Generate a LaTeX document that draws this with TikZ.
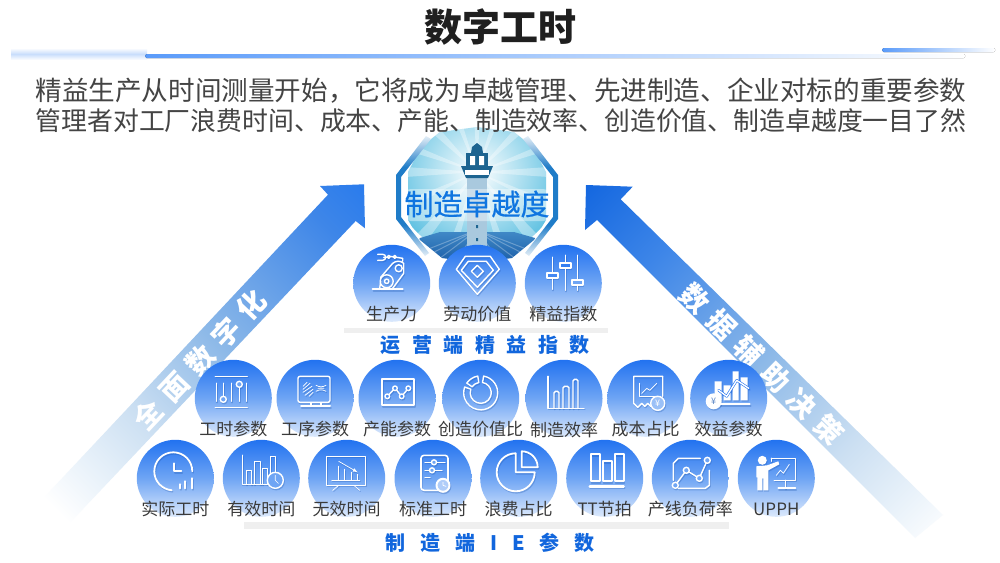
\documentclass[tikz,border=0pt]{standalone}
\usepackage{fontspec}
\setmainfont{Noto Sans CJK SC}
\newfontfamily\emblemfont{Noto Sans CJK SC}[FakeBold=0.6]
\usetikzlibrary{fadings,shadings}
\definecolor{txtgray}{HTML}{444444}
\definecolor{lblgray}{HTML}{3A3A3A}
\definecolor{titleink}{HTML}{1F1F1F}
\definecolor{deepblue}{HTML}{1166DD}
\definecolor{discbg}{HTML}{6FA5F4}
\definecolor{barblue}{HTML}{5A9BFA}
\definecolor{ringblue}{HTML}{1F7CC8}
\definecolor{ringpale}{HTML}{E3EEF7}
\definecolor{skyedge}{HTML}{62C2E2}
\definecolor{seatop}{HTML}{3F88C6}
\definecolor{seabot}{HTML}{1A5CA6}
\definecolor{towerc}{HTML}{A9C9DE}
\definecolor{lampc}{HTML}{1D6490}
\definecolor{bA}{HTML}{E9F2FA}\definecolor{bB}{HTML}{CBDFF2}\definecolor{bC}{HTML}{8DB9E8}
\definecolor{bD}{HTML}{3E86E8}\definecolor{bE}{HTML}{1A73F0}\definecolor{bF}{HTML}{1568E0}
\pgfdeclarehorizontalshading{bannerL}{100bp}{
  color(0bp)=(white); color(18bp)=(white); color(26bp)=(bA);
  color(37bp)=(bB); color(53bp)=(bC); color(77bp)=(bD); color(92bp)=(bE); color(100bp)=(bE)}
\pgfdeclarehorizontalshading{bannerR}{100bp}{
  color(0bp)=(white); color(14bp)=(white); color(22bp)=(bA);
  color(33bp)=(bB); color(50bp)=(bC); color(71bp)=(bD); color(85bp)=(bF); color(100bp)=(bF)}
\pgfdeclareverticalshading{ringv}{100bp}{
  color(0bp)=(ringpale); color(25bp)=(ringpale); color(38bp)=(ringblue);
  color(62bp)=(ringblue); color(75bp)=(ringpale); color(100bp)=(ringpale)}
\definecolor{HTMLa}{HTML}{2272F0}
\definecolor{HTMLb}{HTML}{DCE9FC}
\definecolor{HTMLc}{HTML}{EFEFEF}
\tikzset{
  x=1pt,y=-1pt,
  disc/.style={circle,minimum size=77pt,inner sep=0pt,top color=HTMLa,bottom color=HTMLb,middle color=discbg},
  lbl/.style={font=\fontsize{17}{17}\selectfont,text=lblgray,inner sep=0pt},
  head/.style={font=\bfseries\fontsize{20}{20}\selectfont,text=deepblue,inner sep=0pt},
  sub/.style={text=txtgray,inner sep=0pt},
  band/.style={font=\bfseries\fontsize{28}{28}\selectfont,text=white,inner sep=0pt},
  greybar/.style={fill=HTMLc,draw=none},
  thin ic/.style={line width=.7pt},
  thick ic/.style={line width=2pt},
}
% icon placement: soft shadow pass, then white pass
\newcommand\placeicon[3]{%
  \begin{scope}[shift={(#1+.8,#2+1.4)},color=HTMLa!70!black,opacity=.28,line width=1.4pt,line join=round,line cap=round]#3\end{scope}%
  \begin{scope}[shift={(#1,#2)},color=white,line width=1.4pt,line join=round,line cap=round]#3\end{scope}}
\newcommand\icRobot{%
  \draw[thick ic] (-19,6)--(11,6);
  \draw (-5,-2) circle (6.5) (-5,-2) circle (2.2) (7,-15) circle (3.5);
  \draw (-11,-6)--(1,-20) (1,5)--(12,-10) (12,-20)--(12,-10) (1,-20) to[bend left=40] (12,-20);
  \draw (-11,-2)--(-12,5);
  \draw (11,-22)--(11,-25)--(-2,-27) (-3,-26)--(-8,-26);
  \draw (-3,-26.5) circle (1.5) (3,-26.5) circle (1.5);
  \draw (-9,-29)--(-14,-29) (-9,-23)--(-14,-23) (-9,-29) arc (-90:90:3);}
\newcommand\icGem{%
  \draw (-21,-14)--(-12,-27)--(13,-27)--(22,-14)--(0,11)--cycle;
  \draw (-16,-13)--(-9,-22)--(9,-22)--(16,-13)--(0,4)--cycle;
  \draw (0,-18)--(6,-12)--(0,-6)--(-6,-12)--cycle;}
\newcommand\icSliders{%
  \draw (-11,-26)--(-11,6) (2,-28)--(2,7) (14,-28)--(14,7);
  \draw[fill=HTMLa!55!discbg] (-16.5,-10.5) rectangle (-5.5,-5.5);
  \draw[fill=HTMLa!75!discbg] (-3.5,-20.5) rectangle (7.5,-15.5);
  \draw[fill=discbg] (8.5,-3.5) rectangle (19.5,1.5);}
\newcommand\icParam{%
  \draw (-18,-22)--(14,-22) (-18,9)--(14,9);
  \draw (-17,-15)--(-17,3) (-10,-15)--(-10,-2) (-2,-15)--(-2,3) (6,-11)--(6,3) (13,-15)--(13,3);
  \draw[fill=discbg] (-10,1) circle (3) (6,-14) circle (3);}
\newcommand\icMonitor{%
  \draw[rounded corners=2pt] (-17,-22) rectangle (15,4);
  \draw[thin ic] (-12,-12)--(-8,-16) (-12,-9)--(-5,-15) (-12,-6)--(-3,-12) (-10,-3)--(-2,-9) (-6,-2)--(-2,-6);
  \draw[thin ic] (1,-13) to[bend right=30] (11,-13) (1,-7) to[bend left=30] (11,-7) (3,-10)--(9,-10);
  \draw (-4,5)--(-4,7) (6,5)--(6,7);
  \draw[thick ic] (-14,8)--(15,8);}
\newcommand\icCap{%
  \draw[line width=1.7pt] (-15,-19) rectangle (17,7);
  \draw (-9.7,-2)--(-2,-10)--(4.7,-2)--(11.3,-10);
  \draw[fill=HTMLa!45!discbg] (-9.7,-2) circle (2.3) (-2,-10) circle (2.3) (4.7,-2) circle (2.3) (11.3,-10) circle (2.3);}
\newcommand\icDonut{%
  \draw (2.95,-22.2) arc (-80:200:17) -- ++(6.1,2.2) arc (200:-80:10.5) -- cycle;
  \draw (-2.95,-22.2) arc (-100:-145:17) -- ++(5.3,3.7) arc (-145:-100:10.5) -- cycle;}
\newcommand\icBars{%
  \draw (-16,-22)--(-16,10)--(20,10);
  \draw[rounded corners=1.5pt] (-10,10)--(-10,-7)--(-5,-7)--(-5,10);
  \draw[rounded corners=1.5pt] (-1,10)--(-1,-12)--(5,-12)--(5,10);
  \draw[rounded corners=1.5pt] (9,10)--(9,-19)--(14,-19)--(14,10);}
\newcommand\icCost{%
  \draw (5,8)--(2,5)--(-1,8)--(-4,5)--(-8,9)--(-12,5)--(-12,-22)--(17,-22)--(17,-2);
  \draw[thin ic] (-6,-15)--(-6,-2)--(11,-2);
  \draw[thin ic] (-4,-5)--(1,-10)--(4,-8)--(11,-15);
  \draw[fill=discbg!70!white] (12,5) circle (7);
  \node[font=\fontsize{9}{9}\selectfont,text=white,inner sep=0pt] (yenA) at (12,5) {¥};}
\newcommand\icBenefit{%
  \fill (-14,-17) rectangle (-7,2) (-5,-13) rectangle (2,2) (4,-27) rectangle (10,2) (12,-21) rectangle (19,2);
  \draw[thick ic] (-9,6)--(21,6);
  \draw[HTMLa,line width=2.6pt] (-10,-8)--(-2,-2)--(8,-18)--(20,-10);
  \draw (-10,-8)--(-2,-2)--(8,-18)--(20,-10);
  \fill (-15,3) circle (8);
  \node[font=\fontsize{9}{9}\selectfont,text=discbg!80!black,inner sep=0pt] (yenB) at (-15,3) {¥};}
\newcommand\icClock{%
  \draw[line width=1.8pt] (17,-7) arc (0:-265:19);
  \draw[line width=1.8pt] (-1,-15)--(-1,-7)--(6,-7);
  \draw[line width=2.2pt] (5,10)--(5,6) (10,10)--(10,3) (17,10)--(17,0);}
\newcommand\icEff{%
  \draw (-19,-23)--(-19,6)--(6,6);
  \draw (-15,6)--(-15,-8)--(-10,-8)--(-10,6);
  \draw (-7,6)--(-7,-17)--(-1,-17)--(-1,6);
  \draw (1,6)--(1,-10)--(6,-10)--(6,6);
  \draw (9,6)--(9,-22)--(14,-22)--(14,-6);
  \draw[fill=discbg] (14,2) circle (8);
  \draw[thin ic] (14,-3)--(14,2)--(17,5);}
\newcommand\icBoard{%
  \draw[line width=1pt] (-20,-22) rectangle (19,7);
  \draw[thin ic] (-8,7)--(-14,12) (7,7)--(13,12);
  \draw[thin ic] (-15,2)--(13,2) (-8,2)--(-8,-12) (-2,2)--(-2,-9) (5,2)--(5,-6) (11,2)--(11,-4);
  \draw[thin ic,-latex] (-8,-17)--(11,-6);}
\newcommand\icStd{%
  \draw[rounded corners=3pt,line width=1.6pt] (-12,-23) rectangle (15,12);
  \draw (-8,-16)--(12,-16) (-8,-8)--(9,-8) (-8,-1)--(-3,-1);
  \draw[fill=discbg] (1,-16) circle (2.5) (-1,-8) circle (2.5);
  \draw[fill=discbg!55!white,line width=2pt] (10,7) circle (6.5);
  \draw[thin ic] (10,4)--(10,7)--(13,8);}
\newcommand\icPie{%
  \draw[line width=1.8pt] (-3,-25) arc (-90:-360:19) -- (-3,-6) -- cycle;
  \draw[line width=1.8pt] (3,-27) arc (-90:0:16) -- (3,-11) -- cycle;}
\newcommand\icTT{%
  \draw[line width=1.8pt] (-14,-24) rectangle (-5,3) (-2,-17) rectangle (7,3) (10,-24) rectangle (19,3);
  \draw[line width=2.4pt] (-15,8)--(19,8);}
\newcommand\icLoad{%
  \draw (10,-20)--(-12,-20)--(-17,-15)--(-17,2) (-12,10)--(15,10)--(19,7)--(19,-8);
  \draw (-15,7)--(-4,-8)--(9,0)--(17,-18);
  \draw[fill=discbg] (-15,7) circle (3) (-4,-8) circle (3) (9,0) circle (3) (17,-18) circle (3);}
\newcommand\icUpph{%
  \fill (-14,-18) circle (4.5);
  \fill (-20,-12)--(-9,-13)--(2,-17)--(3,-14)--(-8,-8)--(-8,12)--(-13,12)--(-13,0)--(-14,0)--(-14,12)--(-19,12)--(-19,-1)--(-20,-1)--cycle;
  \draw (-5,-20)--(19,-20)--(19,2)--(-2,2) (-5,-20)--(-5,-17);
  \draw (9,2)--(9,10);
  \draw[line width=1.8pt] (2,10)--(19,10);
  \draw[thin ic] (0,-3)--(4,-8)--(7,-5)--(13,-14);}
\begin{document}
\begin{tikzpicture}
\useasboundingbox (0,0) rectangle (1000,562);
\fill[white] (0,0) rectangle (1000,562);

% title rule
\shade[top color=white,bottom color=white,middle color=HTMLb!85!barblue] (11,48) rectangle (147,60);
\fill[left color=barblue,right color=white,rounded corners=1.5pt] (145,54) rectangle (965,58);
\fill[left color=barblue,right color=white,rounded corners=1.5pt] (882,48) rectangle (995,52);

\node[font=\bfseries\fontsize{38}{38}\selectfont,text=titleink,inner sep=0pt] (title) at (500,27) {数字工时};

% banners
\shade[shading=bannerL,shading angle=45] (364,184.3)--(320,186)--(328,194.7)--(40,501.7)--(65,528)--(355.7,221)--(365,228.3)--cycle;
\shade[shading=bannerR,shading angle=135] (586,185)--(632.7,186.7)--(620.7,199.3)--(943,515)--(915,538)--(597,220)--(585,230)--cycle;
\node[band,rotate=46.7] (bandL) at (200,360) {全\hspace{9.7pt}面\hspace{9.7pt}数\hspace{9.7pt}字\hspace{9.7pt}化};
\node[band,rotate=-44.3] (bandR) at (762,364) {数\hspace{9.7pt}据\hspace{9.7pt}辅\hspace{9.7pt}助\hspace{9.7pt}决\hspace{9.7pt}策};

% emblem
\begin{scope}
  \clip (477,127)--(514,132)--(533,147)--(546,172)--(546,220)--(534,240)--(512,258)--(477,263)--(442,258)--(420,240)--(408,220)--(408,172)--(421,147)--(440,132)--cycle;
  \shade[inner color=white,outer color=skyedge] (477,172) circle (85);
  \foreach \a/\w in {0/4,25/3,50/4,72/3,108/3,130/4,155/3,180/4,200/3,225/4,250/3,270/3,290/3,315/4,340/3}
    \fill[white,opacity=.35] (477,172)--++(\a-\w:90)--++(\a+90:{2*\w*1.57})--cycle;
  \shade[top color=seatop,bottom color=seabot] (400,264)--(420,238)--(440,232)--(514,232)--(535,238)--(555,264)--cycle;
  \foreach \x in {395,415,435,455,500,520,540,560}
    \draw[white,opacity=.28,line width=1pt] (477,230)--(\x,262);
  \fill[towerc] (467,176) rectangle (487,263);
  \fill[lampc] (476,203) rectangle (478,206) (476,225) rectangle (478,228) (476,238) rectangle (478,241);
  \fill[lampc] (461,166)--(493,166)--(488,178)--(466,178)--cycle;
  \fill[white] (465,170) rectangle (489,175);
  \fill[lampc] (466,153) rectangle (488,166);
  \fill[white] (470,156) rectangle (475,165) (479,156) rectangle (484,165);
  \fill[lampc] (477,143)--(482,147)--(483,153)--(471,153)--(472,147)--cycle;
\end{scope}
\shade[shading=ringv] (426,136)--(396,175)--(396,219)--(425,256)--(429,253)--(401,217)--(401,177)--(431,139)--cycle;
\shade[shading=ringv] (528,136)--(558,175)--(558,219)--(529,256)--(525,253)--(553,217)--(553,177)--(523,139)--cycle;
\fill[white,opacity=.4,rounded corners=8pt] (403,189) rectangle (551,221);
\node[font=\emblemfont\fontsize{29}{29}\selectfont,text=deepblue!90!cyan,inner sep=0pt] (core) at (477,204) {制造卓越度};

\node[sub,font=\fontsize{26.6}{27}\selectfont] (lineA) at (501,91) {精益生产从时间测量开始，它将成为卓越管理、先进制造、企业对标的重要参数};
\node[sub,font=\fontsize{25.85}{27}\selectfont] (lineB) at (501,121) {管理者对工厂浪费时间、成本、产能、制造效率、创造价值、制造卓越度一目了然};

% bars
\fill[greybar] (344,328) rectangle (608,332.5);
\fill[greybar] (244,522.3) rectangle (729,529);

% discs
\foreach \n/\x/\y in {a1/391.7/283.3,a2/477.3/283.3,a3/563.3/283.3,
  b1/233.3/398.3,b2/315/398.3,b3/397/398.3,b4/480.7/398.3,b5/564/398.3,b6/645.7/398.3,b7/728.7/398.3,
  c1/175.3/478.3,c2/261.3/478.3,c3/346.7/478.3,c4/433/478.3,c5/518.7/478.3,c6/604.7/478.3,c7/690.3/478.3,c8/776.3/478.3}
  \node[disc] (\n) at (\x,\y) {};

\placeicon{391.7}{283.3}{\icRobot}
\placeicon{477.3}{283.3}{\icGem}
\placeicon{563.3}{283.3}{\icSliders}
\placeicon{233.3}{398.3}{\icParam}
\placeicon{315}{398.3}{\icMonitor}
\placeicon{397}{398.3}{\icCap}
\placeicon{480.7}{398.3}{\icDonut}
\placeicon{564}{398.3}{\icBars}
\placeicon{645.7}{398.3}{\icCost}
\placeicon{728.7}{398.3}{\icBenefit}
\placeicon{175.3}{478.3}{\icClock}
\placeicon{261.3}{478.3}{\icEff}
\placeicon{346.7}{478.3}{\icBoard}
\placeicon{433}{478.3}{\icStd}
\placeicon{518.7}{478.3}{\icPie}
\placeicon{604.7}{478.3}{\icTT}
\placeicon{690.3}{478.3}{\icLoad}
\placeicon{776.3}{478.3}{\icUpph}

% labels
\node[lbl] (la1) at (391.7,314) {生产力};
\node[lbl] (la2) at (477.3,314) {劳动价值};
\node[lbl] (la3) at (563.3,314) {精益指数};
\node[lbl] (lb1) at (233.3,429.5) {工时参数};
\node[lbl] (lb2) at (315,429.5) {工序参数};
\node[lbl] (lb3) at (397,429.5) {产能参数};
\node[lbl] (lb4) at (480.7,429.5) {创造价值比};
\node[lbl] (lb5) at (564,429.5) {制造效率};
\node[lbl] (lb6) at (645.7,429.5) {成本占比};
\node[lbl] (lb7) at (728.7,429.5) {效益参数};
\node[lbl] (lc1) at (175.3,509) {实际工时};
\node[lbl] (lc2) at (261.3,509) {有效时间};
\node[lbl] (lc3) at (346.7,509) {无效时间};
\node[lbl] (lc4) at (433,509) {标准工时};
\node[lbl] (lc5) at (518.7,509) {浪费占比};
\node[lbl] (lc6) at (604.7,509) {TT节拍};
\node[lbl] (lc7) at (690.3,509) {产线负荷率};
\node[lbl] (lc8) at (776.3,509) {UPPH};

\node[head] (opsT) at (485,345) {运\hspace{11.5pt}营\hspace{11.5pt}端\hspace{11.5pt}精\hspace{11.5pt}益\hspace{11.5pt}指\hspace{11.5pt}数};
\node[head] (ieT) at (490,543) {制\hspace{15pt}造\hspace{15pt}端\hspace{15pt}I\hspace{15pt}E\hspace{15pt}参\hspace{15pt}数};
\end{tikzpicture}
\end{document}
